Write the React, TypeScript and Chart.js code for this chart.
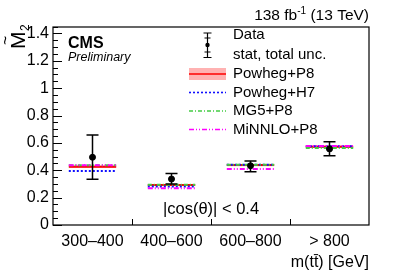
import React, { useEffect, useRef } from "react";
import { Chart, registerables } from "chart.js";

Chart.register(...registerables);

const categories = ["300–400", "400–600", "600–800", "> 800"];
const dataVals = [0.495, 0.336, 0.433, 0.556];
const dataErrUp = [0.162, 0.041, 0.034, 0.052];
const dataErrDown = [0.16, 0.037, 0.044, 0.05];
const powhegP8 = [0.426, 0.292, 0.438, 0.572];
const powhegP8Unc = [0.009, 0.007, 0.008, 0.009];
const powhegH7 = [0.394, 0.281, 0.44, 0.575];
const mg5P8 = [0.436, 0.294, 0.441, 0.562];
const minnloP8 = [0.436, 0.268, 0.409, 0.577];
const yTicks = [0, 0.2, 0.4, 0.6, 0.8, 1, 1.2, 1.4];

const FONT = "'Liberation Sans', Arial, sans-serif";

function segments(vals: number[]) {
  const out: any[] = [];
  vals.forEach((v, i) => {
    out.push({ x: i + 0.2, y: v });
    out.push({ x: i + 0.8, y: v });
    out.push({ x: i + 0.9, y: null });
  });
  return out;
}

const lineDs = (label: string, vals: number[], color: string, dash: number[], width: number, extra: any = {}) => ({
  type: "line" as const,
  label,
  data: segments(vals),
  borderColor: color,
  backgroundColor: color,
  borderWidth: width,
  borderDash: dash,
  pointRadius: 0,
  spanGaps: false,
  fill: false,
  ...extra,
});

const decorPlugin = {
  id: "decor",
  afterDatasetsDraw(chart: any) {
    const ctx = chart.ctx;
    const xs = chart.scales.x;
    const ys = chart.scales.y;
    ctx.save();
    ctx.strokeStyle = "#000";
    ctx.lineWidth = 1.5;
    dataVals.forEach((v, i) => {
      const px = xs.getPixelForValue(i + 0.5);
      const top = ys.getPixelForValue(v + dataErrUp[i]);
      const bot = ys.getPixelForValue(v - dataErrDown[i]);
      ctx.beginPath();
      ctx.moveTo(px, top);
      ctx.lineTo(px, bot);
      ctx.moveTo(px - 6, top);
      ctx.lineTo(px + 6, top);
      ctx.moveTo(px - 6, bot);
      ctx.lineTo(px + 6, bot);
      ctx.stroke();
    });
    ctx.restore();
  },
  afterDraw(chart: any) {
    const ctx = chart.ctx;
    const a = chart.chartArea;
    const xs = chart.scales.x;
    const ys = chart.scales.y;
    ctx.save();
    ctx.strokeStyle = "#000";
    ctx.lineWidth = 1.2;
    ctx.strokeRect(a.left, a.top, a.right - a.left, a.bottom - a.top);
    ctx.lineWidth = 1;
    for (let k = 0; k <= 29; k++) {
      const v = k * 0.05;
      const py = Math.round(ys.getPixelForValue(v)) + 0.5;
      if (py < a.top) continue;
      const len = k % 4 === 0 ? 9 : 5;
      ctx.beginPath();
      ctx.moveTo(a.left, py);
      ctx.lineTo(a.left + len, py);
      ctx.stroke();
    }
    for (let i = 1; i < categories.length; i++) {
      const px = Math.round(xs.getPixelForValue(i)) + 0.5;
      ctx.beginPath();
      ctx.moveTo(px, a.bottom);
      ctx.lineTo(px, a.bottom - 6);
      ctx.stroke();
    }
    ctx.fillStyle = "#000";
    ctx.font = `16px ${FONT}`;
    ctx.textAlign = "right";
    ctx.textBaseline = "middle";
    ctx.fillText("m(tt̄) [GeV]", a.right, 263);
    ctx.textBaseline = "alphabetic";
    ctx.font = `15.5px ${FONT}`;
    const part2 = " (13 TeV)";
    const w2 = ctx.measureText(part2).width;
    ctx.fillText(part2, a.right, 20);
    ctx.font = `10px ${FONT}`;
    const sup = "-1";
    const ws = ctx.measureText(sup).width;
    ctx.fillText(sup, a.right - w2, 14);
    ctx.font = `15.5px ${FONT}`;
    ctx.fillText("138 fb", a.right - w2 - ws, 20);
    ctx.textAlign = "left";
    ctx.font = `bold 16px ${FONT}`;
    ctx.fillText("CMS", a.left + 15, 48);
    ctx.font = `italic 12.5px ${FONT}`;
    ctx.fillText("Preliminary", a.left + 15, 61);
    ctx.textAlign = "center";
    ctx.textBaseline = "middle";
    ctx.font = `16.5px ${FONT}`;
    ctx.fillText("|cos(θ)| < 0.4", (a.left + a.right) / 2, 209);
    ctx.save();
    ctx.translate(25, 49);
    ctx.rotate(-Math.PI / 2);
    ctx.textAlign = "left";
    ctx.textBaseline = "alphabetic";
    ctx.font = `21px ${FONT}`;
    const mw = ctx.measureText("M").width;
    ctx.fillText("M", 0, 0);
    ctx.textAlign = "center";
    ctx.font = `16px ${FONT}`;
    ctx.fillText("~", mw / 2, -14);
    ctx.textAlign = "left";
    ctx.font = `12px ${FONT}`;
    ctx.fillText("2", mw + 0.5, 4);
    ctx.restore();
    const sx0 = 189, sx1 = 226, tx = 233;
    ctx.textAlign = "left";
    ctx.textBaseline = "middle";
    ctx.font = `15px ${FONT}`;
    ctx.fillText("Data", tx, 35);
    ctx.fillText("stat, total unc.", tx, 55);
    const cx = 207.5;
    ctx.strokeStyle = "#000";
    ctx.lineWidth = 1.2;
    ctx.beginPath();
    ctx.moveTo(cx, 33);
    ctx.lineTo(cx, 57.5);
    ctx.moveTo(cx - 4, 33); ctx.lineTo(cx + 4, 33);
    ctx.moveTo(cx - 4, 57.5); ctx.lineTo(cx + 4, 57.5);
    ctx.moveTo(cx - 3, 38); ctx.lineTo(cx + 3, 38);
    ctx.moveTo(cx - 3, 52); ctx.lineTo(cx + 3, 52);
    ctx.stroke();
    ctx.beginPath();
    ctx.arc(cx, 45, 2.2, 0, Math.PI * 2);
    ctx.fill();
    const entries = [
      { t: "Powheg+P8", y: 74, c: "#ff0000", d: [], band: true },
      { t: "Powheg+H7", y: 92.5, c: "#1010ff", d: [2, 2], band: false },
      { t: "MG5+P8", y: 111, c: "#44cc44", d: [4, 2, 1, 2], band: false },
      { t: "MiNNLO+P8", y: 129.5, c: "#ff00ff", d: [5, 2, 1, 2, 1, 2], band: false },
    ];
    entries.forEach((e) => {
      if (e.band) {
        ctx.fillStyle = "rgba(255,0,0,0.3)";
        ctx.fillRect(sx0, e.y - 6, sx1 - sx0, 12);
      }
      ctx.strokeStyle = e.c;
      ctx.lineWidth = 1.6;
      ctx.setLineDash(e.d);
      ctx.beginPath();
      ctx.moveTo(sx0, e.y);
      ctx.lineTo(sx1, e.y);
      ctx.stroke();
      ctx.setLineDash([]);
      ctx.fillStyle = "#000";
      ctx.fillText(e.t, tx, e.y);
    });
    ctx.restore();
  },
};

export default function App() {
  const ref = useRef<HTMLCanvasElement>(null);
  useEffect(() => {
    if (!ref.current) return;
    const up = powhegP8.map((v, i) => v + powhegP8Unc[i]);
    const lo = powhegP8.map((v, i) => v - powhegP8Unc[i]);
    const chart = new Chart(ref.current, {
      type: "scatter",
      data: {
        datasets: [
          {
            type: "scatter",
            label: "Data",
            data: dataVals.map((v, i) => ({ x: i + 0.5, y: v })),
            backgroundColor: "#000",
            borderColor: "#000",
            pointRadius: 3,
            pointHoverRadius: 3,
          } as any,
          lineDs("MiNNLO+P8", minnloP8, "#ff00ff", [5, 2, 1, 2, 1, 2], 2),
          lineDs("MG5+P8", mg5P8, "#44cc44", [4, 2, 1, 2], 2),
          lineDs("Powheg+H7", powhegH7, "#1010ff", [2, 2], 2),
          lineDs("Powheg+P8", powhegP8, "#ff0000", [], 2),
          lineDs("band lo", lo, "rgba(0,0,0,0)", [], 0, { fill: "+1", backgroundColor: "rgba(255,0,0,0.3)" }),
          lineDs("band up", up, "rgba(0,0,0,0)", [], 0),
        ],
      },
      options: {
        animation: false,
        responsive: false,
        events: [],
        layout: { padding: { left: 0, top: 27, right: 37, bottom: 0 } },
        plugins: { legend: { display: false }, tooltip: { enabled: false }, title: { display: false } },
        scales: {
          x: {
            type: "linear",
            min: 0,
            max: 4,
            grid: { display: false, drawTicks: false },
            border: { display: false },
            afterBuildTicks: (s: any) => {
              s.ticks = categories.map((_, i) => ({ value: i + 0.5 }));
            },
            afterFit: (s: any) => {
              s.height = 50;
            },
            ticks: {
              autoSkip: false,
              maxRotation: 0,
              padding: 7,
              color: "#000",
              font: { family: FONT, size: 16 },
              callback: (v: any) => categories[Math.floor(Number(v))] ?? "",
            },
          },
          y: {
            type: "linear",
            min: 0,
            max: 1.447,
            grid: { display: false, drawTicks: false },
            border: { display: false },
            afterBuildTicks: (s: any) => {
              s.ticks = yTicks.map((v) => ({ value: v }));
            },
            afterFit: (s: any) => {
              s.width = 53;
            },
            ticks: {
              padding: 4,
              color: "#000",
              font: { family: FONT, size: 16 },
              callback: (v: any) => String(Math.round(Number(v) * 10) / 10),
            },
          },
        },
      },
      plugins: [decorPlugin],
    } as any);
    return () => chart.destroy();
  }, []);
  return (
    <div style={{ position: "fixed", left: 0, top: 0, width: 406, height: 275, background: "#fff" }}>
      <canvas ref={ref} width={406} height={275} style={{ display: "block" }} />
    </div>
  );
}
